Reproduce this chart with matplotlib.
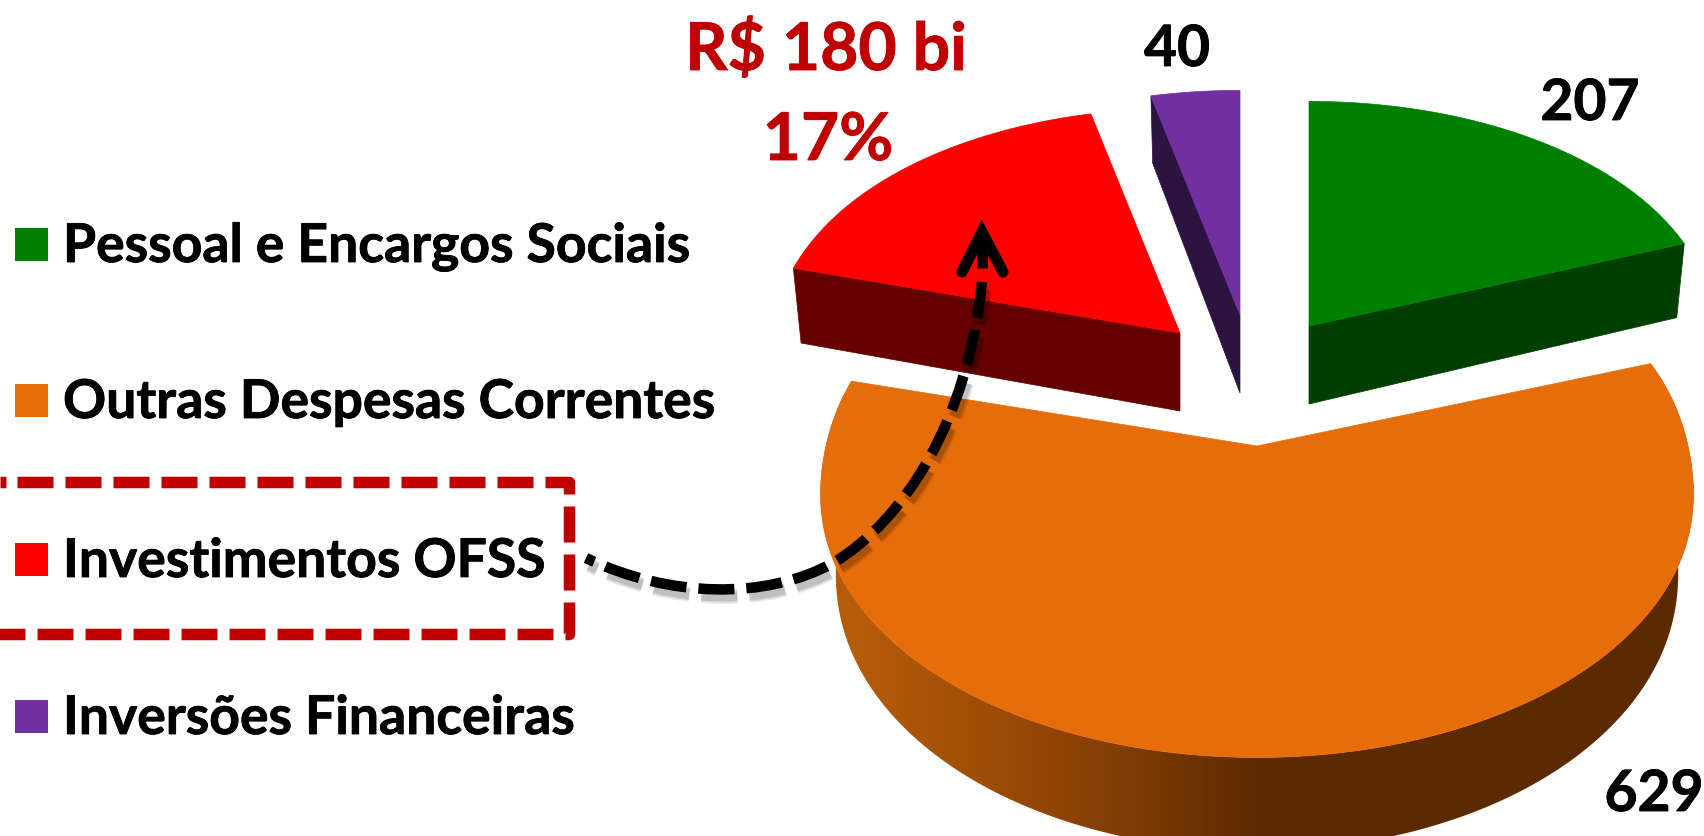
#!/usr/bin/env python3
"""Exploded 3D pie of the budget by spending group, drawn in pixel coordinates."""

import numpy as np
import matplotlib
matplotlib.use("Agg")
import matplotlib.pyplot as plt
import matplotlib.patheffects as pe
from matplotlib.patches import PathPatch, Polygon, Rectangle
from matplotlib.path import Path

categories = ["Pessoal e Encargos Sociais", "Outras Despesas Correntes",
              "Investimentos OFSS", "Inversões Financeiras"]
values = [207, 629, 180, 40]
value_labels = ["207", "629", "R$ 180 bi", "40"]
highlight_share = "17%"

top_colors = ["#008000", "#E66D0A", "#FF0000", "#7030A0"]
side_colors = ["#003F00", None, "#660000", "#2D1340"]

# apex and horizontal radius of each exploded slice on the canvas
apex = [(1309, 326), (1257, 446), (1180, 333), (1240, 315)]
radius_x = [411, 431, 411, 411]
shrink_x = [0.98, 0.965, 0.98, 0.98]
cut_side = ["end", None, "start", "start"]

W, H = 1704, 836
S, K, DEPTH = 261, 0.162, 78
RED = "#C00000"

plt.rcParams["font.family"] = ["Lato", "DejaVu Sans"]
BOLDER = [pe.withStroke(linewidth=0.6, foreground="black")]
BOLDER_RED = [pe.withStroke(linewidth=0.6, foreground=RED)]


def project(theta, i, low=False):
    """Perspective image of a rim point of slice i, theta clockwise from the top."""
    ax0, ay0 = apex[i]
    u, v = np.sin(theta), np.cos(theta)
    w = 1 + K * v
    # the rim is not a clean ellipse in the picture, x foreshortens less at the back
    wx = 1 + (0.135 - 0.045 * np.tanh(v / 0.3)) * v
    x, y = radius_x[i] * u / wx, -S * v / w
    if low:
        return ax0 + shrink_x[i] * x, ay0 + y + DEPTH / w
    return ax0 + x, ay0 + y


def draw_slice(ax, a0, a1, i):
    ts = np.linspace(a0, a1, 240)
    cx, cy = apex[i]
    xt, yt = project(ts, i)
    xb, yb = project(ts, i, low=True)

    if cut_side[i] is None:
        # gradient round the big slice, dark towards the right
        grad_x = np.linspace(800, 1704, 450)
        stops_x = [858, 1031, 1146, 1261, 1704]
        rgb = np.array([[0xB5, 0x5C, 0x0A], [0x96, 0x47, 0x05], [0x7A, 0x3A, 0x04],
                        [0x5C, 0x2A, 0x00], [0x5C, 0x2A, 0x00]]) / 255
        img = np.stack([np.interp(grad_x, stops_x, rgb[:, c]) for c in range(3)], axis=-1)
        im = ax.imshow(img[None, :, :], extent=(800, 1704, 900, 300), aspect="auto",
                       interpolation="bilinear", zorder=1)
        clip = Polygon(np.column_stack([np.r_[xt, xb[::-1]], np.r_[yt, yb[::-1]]]),
                       transform=ax.transData, fc="none", ec="none")
        ax.add_patch(clip)
        im.set_clip_path(clip)
    else:
        # cut face that looks at the viewer
        cut = a0 if cut_side[i] == "start" else a1
        ex, ey = project(cut, i)
        fx, fy = project(cut, i, low=True)
        ax.add_patch(Polygon([(cx, cy), (ex, ey), (fx, fy), (cx, cy + DEPTH)],
                             fc=side_colors[i], ec=side_colors[i], lw=0.5, zorder=1))
    ax.add_patch(Polygon(np.column_stack([np.r_[cx, xt], np.r_[cy, yt]]),
                         fc=top_colors[i], ec=top_colors[i], lw=0.5, zorder=2))


def bezier_length(verts):
    """Length of a chain of cubic segments, sampled."""
    total = 0.0
    for s in range(0, len(verts) - 1, 3):
        p = np.array(verts[s:s + 4], dtype=float)
        t = np.linspace(0, 1, 200)[:, None]
        pts = ((1 - t) ** 3 * p[0] + 3 * (1 - t) ** 2 * t * p[1]
               + 3 * (1 - t) * t ** 2 * p[2] + t ** 3 * p[3])
        total += np.hypot(*np.diff(pts, axis=0).T).sum()
    return total


fig = plt.figure(figsize=(W / 100, H / 100), dpi=100, facecolor="white")
ax = fig.add_axes([0, 0, 1, 1])

edges = np.r_[0, np.cumsum(values)] / np.sum(values) * 2 * np.pi
for i in range(len(values)):
    draw_slice(ax, edges[i], edges[i + 1], i)

ax.set_xlim(0, W)
ax.set_ylim(H, 0)
ax.axis("off")

# legend
legend_base = [262, 418, 577, 734]
for name, color, base in zip(categories, top_colors, legend_base):
    ax.add_patch(Rectangle((15, base - 34), 33, 33, fc=color, ec="none", zorder=3))
    ax.text(63, base, name, fontsize=38.5, fontweight="bold", color="black",
            va="baseline", ha="left", zorder=4, path_effects=BOLDER)

# dashed frame round the highlighted legend entry
# starts inside the canvas, agg restarts the dashes where it clips a path
frame = Path([(17, 482), (569, 482), (569, 634), (-31, 634)])
ax.add_patch(PathPatch(frame, fc="none", ec=RED, lw=8.28,
                       ls=(0, (36 / 11.5, 12 / 11.5)),
                       joinstyle="round", capstyle="butt", zorder=3))
ax.plot([0, 6], [482, 482], color=RED, lw=8.28, solid_capstyle="butt", zorder=3)

# value labels
ax.text(826, 70, value_labels[2], fontsize=47.5, fontweight="bold", color=RED,
        ha="center", va="baseline", zorder=4, path_effects=BOLDER_RED)
ax.text(828, 160, highlight_share, fontsize=47.5, fontweight="bold", color=RED,
        ha="center", va="baseline", zorder=4, path_effects=BOLDER_RED)
for text, x, y in [(value_labels[3], 1177, 66), (value_labels[0], 1590, 120),
                   (value_labels[1], 1654, 811)]:
    ax.text(x, y, text, fontsize=41, fontweight="bold", color="black",
            ha="center", va="baseline", zorder=4, path_effects=BOLDER)

# curved dashed arrow from the legend to the slice
arrow_verts = [(586, 558), (670, 598), (765, 600), (833, 563),
               (905, 520), (968, 420), (982, 282)]
arrow_codes = [Path.MOVETO] + [Path.CURVE4] * 6
# phase chosen so that the last dash ends exactly under the arrow head
phase = (36 - bezier_length(arrow_verts)) % 48
dash = (phase / 10.5, (36 / 10.5, 12 / 10.5))
for lw, alpha in [(11, 0.07), (9, 0.09), (7, 0.11)]:
    shifted = [(x + 3, y + 7) for x, y in arrow_verts]
    ax.add_patch(PathPatch(Path(shifted, arrow_codes), fc="none", ec="black", lw=lw,
                           alpha=alpha, ls=(phase / lw * 0.72, (36 / lw * 0.72, 12 / lw * 0.72)),
                           capstyle="butt", zorder=5))
ax.add_patch(PathPatch(Path(arrow_verts, arrow_codes), fc="none", ec="black", lw=7.56,
                       ls=dash, capstyle="butt", zorder=6))
ax.plot([962, 982, 1003], [272, 232, 272], color="black", lw=8, solid_capstyle="round",
        solid_joinstyle="miter", zorder=6)
ax.plot([982, 982], [240, 268], color="black", lw=7.6, solid_capstyle="butt", zorder=6)

fig.savefig("out.png", dpi=100, facecolor="white")
